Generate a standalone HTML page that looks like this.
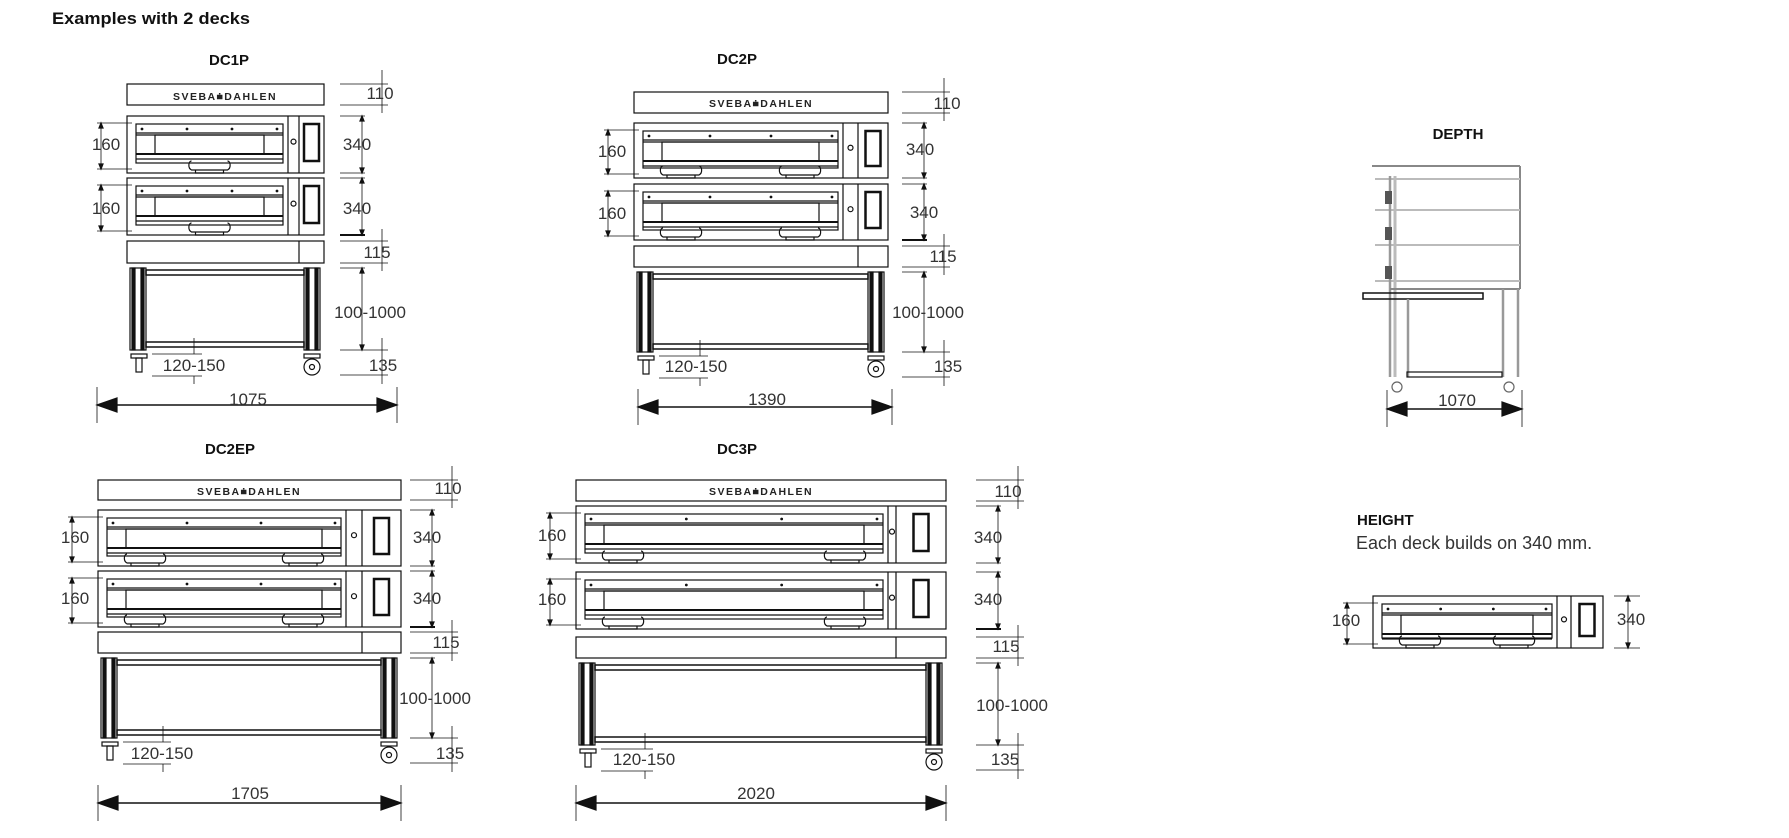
<!DOCTYPE html>
<html><head><meta charset="utf-8">
<style>
html,body{margin:0;padding:0;background:#fff;}
svg{display:block;}
.t{font-family:"Liberation Sans",sans-serif;font-size:17px;fill:#333;}
.b{font-family:"Liberation Sans",sans-serif;font-weight:bold;font-size:15px;fill:#111;}
.br{font-family:"Liberation Sans",sans-serif;font-weight:bold;font-size:10.5px;fill:#222;letter-spacing:1.5px;}
</style></head>
<body>
<svg id="s" width="1789" height="838" viewBox="0 0 1789 838" xmlns="http://www.w3.org/2000/svg">
<g id="g" fill="none" stroke="#111" stroke-width="1.2"></g>
<text x="52" y="24" class="b" style="font-size:17px" textLength="198" lengthAdjust="spacingAndGlyphs">Examples with 2 decks</text>
<text x="229" y="65" class="b" text-anchor="middle">DC1P</text>
<text x="737" y="64" class="b" text-anchor="middle">DC2P</text>
<text x="230" y="454" class="b" text-anchor="middle">DC2EP</text>
<text x="737" y="454" class="b" text-anchor="middle">DC3P</text>
<text x="1458" y="139" class="b" text-anchor="middle">DEPTH</text>
<text x="1357" y="525" class="b">HEIGHT</text>
<text x="1356" y="549" class="t" style="font-size:18px">Each deck builds on 340 mm.</text>

<text x="225" y="100" class="br" text-anchor="middle">SVEBA⩧DAHLEN</text>
<text x="761" y="107" class="br" text-anchor="middle">SVEBA⩧DAHLEN</text>
<text x="249" y="495" class="br" text-anchor="middle">SVEBA⩧DAHLEN</text>
<text x="761" y="495" class="br" text-anchor="middle">SVEBA⩧DAHLEN</text>

<text x="380" y="99" class="t" text-anchor="middle">110</text>
<text x="357" y="150" class="t" text-anchor="middle">340</text>
<text x="357" y="214" class="t" text-anchor="middle">340</text>
<text x="377" y="258" class="t" text-anchor="middle">115</text>
<text x="370" y="318" class="t" text-anchor="middle">100-1000</text>
<text x="383" y="371" class="t" text-anchor="middle">135</text>
<text x="194" y="371" class="t" text-anchor="middle">120-150</text>
<text x="106" y="150" class="t" text-anchor="middle">160</text>
<text x="106" y="214" class="t" text-anchor="middle">160</text>
<text x="248" y="405" class="t" text-anchor="middle">1075</text>

<text x="947" y="109" class="t" text-anchor="middle">110</text>
<text x="920" y="155" class="t" text-anchor="middle">340</text>
<text x="924" y="218" class="t" text-anchor="middle">340</text>
<text x="943" y="262" class="t" text-anchor="middle">115</text>
<text x="928" y="318" class="t" text-anchor="middle">100-1000</text>
<text x="948" y="372" class="t" text-anchor="middle">135</text>
<text x="696" y="372" class="t" text-anchor="middle">120-150</text>
<text x="612" y="157" class="t" text-anchor="middle">160</text>
<text x="612" y="219" class="t" text-anchor="middle">160</text>
<text x="767" y="405" class="t" text-anchor="middle">1390</text>

<text x="448" y="494" class="t" text-anchor="middle">110</text>
<text x="427" y="543" class="t" text-anchor="middle">340</text>
<text x="427" y="604" class="t" text-anchor="middle">340</text>
<text x="446" y="648" class="t" text-anchor="middle">115</text>
<text x="435" y="704" class="t" text-anchor="middle">100-1000</text>
<text x="450" y="759" class="t" text-anchor="middle">135</text>
<text x="162" y="759" class="t" text-anchor="middle">120-150</text>
<text x="75" y="543" class="t" text-anchor="middle">160</text>
<text x="75" y="604" class="t" text-anchor="middle">160</text>
<text x="250" y="799" class="t" text-anchor="middle">1705</text>

<text x="1008" y="497" class="t" text-anchor="middle">110</text>
<text x="988" y="543" class="t" text-anchor="middle">340</text>
<text x="988" y="605" class="t" text-anchor="middle">340</text>
<text x="1006" y="652" class="t" text-anchor="middle">115</text>
<text x="1012" y="711" class="t" text-anchor="middle">100-1000</text>
<text x="1005" y="765" class="t" text-anchor="middle">135</text>
<text x="644" y="765" class="t" text-anchor="middle">120-150</text>
<text x="552" y="541" class="t" text-anchor="middle">160</text>
<text x="552" y="605" class="t" text-anchor="middle">160</text>
<text x="756" y="799" class="t" text-anchor="middle">2020</text>

<text x="1457" y="406" class="t" text-anchor="middle">1070</text>
<text x="1346" y="626" class="t" text-anchor="middle">160</text>
<text x="1631" y="625" class="t" text-anchor="middle">340</text>
</svg>
<script>
var g=document.getElementById('g'),NS='http://www.w3.org/2000/svg';
function el(n,a){var e=document.createElementNS(NS,n);for(var k in a)e.setAttribute(k,a[k]);g.appendChild(e);return e;}
function R(x,y,w,h,o){var a={x:x,y:y,width:w,height:h};for(var k in o)a[k]=o[k];return el('rect',a);}
function L(x1,y1,x2,y2,o){var a={x1:x1,y1:y1,x2:x2,y2:y2};for(var k in o)a[k]=o[k];return el('line',a);}
function arrowV(x,y1,y2){L(x,y1,x,y2,{'stroke-width':0.8});el('path',{d:'M'+(x-2)+' '+(y1+5)+'L'+x+' '+y1+'L'+(x+2)+' '+(y1+5)+'Z',fill:'#111'});el('path',{d:'M'+(x-2)+' '+(y2-5)+'L'+x+' '+y2+'L'+(x+2)+' '+(y2-5)+'Z',fill:'#111'});}
function handle(cx,y){el('path',{d:'M'+(cx-18)+' '+y+'c-3 0-4 7 0 9h36c4-2 3-9 0-9M'+(cx-14)+' '+(y+9)+'v3h28v-3'});}
function deck(x0,x1,y0,y1,s1,s2,nh){
  var h=y1-y0;R(x0,y0,x1-x0,h);L(s1,y0,s1,y1);L(s2,y0,s2,y1);
  var dx0=x0+9,dx1=s1-5;
  R(dx0,y0+8,dx1-dx0,h-18);
  L(dx0,y0+17,dx1,y0+17);L(dx0,y0+19,dx1,y0+19);
  L(dx0,y0+38,dx1,y0+38,{'stroke-width':2});L(dx0,y0+43,dx1,y0+43);
  R(dx0+19,y0+19,dx1-dx0-38,19);
  for(var i=0;i<4;i++){var px=dx0+6+i*(dx1-dx0-12)/3;el('circle',{cx:px,cy:y0+13,r:0.8,fill:'#111'});}
  el('circle',{cx:(s1+s2)/2,cy:y0+h*0.45,r:2.5});
  var hw=15,hc=(s2+x1)/2;R(hc-hw/2,y0+8,hw,h-20,{'stroke-width':2.5});
  if(nh==1)handle((dx0+dx1)/2,y0+h-12);else{handle(dx0+38,y0+h-12);handle(dx1-38,y0+h-12);}
  L(x0-30,y0+7,x0+5,y0+7,{'stroke-width':0.8});L(x0-30,y1-4,x0+5,y1-4,{'stroke-width':0.8});arrowV(x0-26,y0+7,y1-4);
}
function oven(o){
  var x0=o.x0,x1=o.x1;
  R(x0,o.t0,x1-x0,o.t1-o.t0);
  deck(x0,x1,o.d1[0],o.d1[1],o.s1,o.s2,o.nh);deck(x0,x1,o.d2[0],o.d2[1],o.s1,o.s2,o.nh);
  R(x0,o.b0,x1-x0,o.b1-o.b0);L(o.s2,o.b0,o.s2,o.b1);
  var st0=o.st0,st1=o.st1;
  [[x0+3,x0+19],[x1-20,x1-4]].forEach(function(p){R(p[0],st0,p[1]-p[0],st1-st0);R(p[0]+2,st0,3,st1-st0,{fill:'#111'});R(p[1]-5,st0,3,st1-st0,{fill:'#111'});});
  R(x0+19,st0+2,x1-x0-39,5,{'stroke-width':1.5});R(x0+19,st1-8,x1-x0-39,5,{'stroke-width':1.5});
  R(x0+4,st1+4,16,4);R(x0+9,st1+8,6,14);
  R(x1-20,st1+4,16,4);el('circle',{cx:x1-12,cy:st1+17,r:8});el('circle',{cx:x1-12,cy:st1+17,r:2.5});
  var tx=o.tx;L(tx,st1-12,tx,st1+4,{'stroke-width':0.8});L(tx,st1+26,tx,st1+34,{'stroke-width':0.8});L(x0+25,st1+4,tx+8,st1+4,{'stroke-width':0.8});L(x0+25,st1+26,tx+8,st1+26,{'stroke-width':0.8});
  var ay=o.ay,ax0=o.ax0,ax1=o.ax1;L(ax0,ay-18,ax0,ay+18,{'stroke-width':0.8});L(ax1,ay-18,ax1,ay+18,{'stroke-width':0.8});
  L(ax0+10,ay,ax1-10,ay,{'stroke-width':1.5});
  el('path',{d:'M'+ax0+' '+ay+'l20 -7v14z',fill:'#111'});el('path',{d:'M'+ax1+' '+ay+'l-20 -7v14z',fill:'#111'});
  var d0=o.dx,va=d0+42,vb=d0+22;
  [o.t0,o.t1].forEach(function(y){L(d0,y,d0+48,y,{'stroke-width':0.8});});L(va,o.t0-14,va,o.t1+8,{'stroke-width':0.8});
  [o.d1[0],o.d1[1],o.d2[0]].forEach(function(y){L(d0,y,d0+25,y,{'stroke-width':0.8});});L(d0,o.d2[1],d0+25,o.d2[1],{'stroke-width':2});
  arrowV(vb,o.d1[0],o.d1[1]);arrowV(vb,o.d2[0],o.d2[1]);
  [o.b0,o.b1].forEach(function(y){L(d0,y,d0+48,y,{'stroke-width':0.8});});L(va,o.b0-12,va,o.b1+8,{'stroke-width':0.8});
  L(d0,st0,d0+25,st0,{'stroke-width':0.8});L(d0,st1,d0+48,st1,{'stroke-width':0.8});arrowV(vb,st0,st1);
  L(d0,st1+25,d0+48,st1+25,{'stroke-width':0.8});L(va,st1-12,va,st1+34,{'stroke-width':0.8});
}
oven({x0:127,x1:324,t0:84,t1:105,d1:[116,173],d2:[178,235],b0:241,b1:263,st0:268,st1:350,s1:288,s2:299,nh:1,tx:194,ay:405,ax0:97,ax1:397,dx:340});
oven({x0:634,x1:888,t0:92,t1:113,d1:[123,178],d2:[184,240],b0:246,b1:267,st0:272,st1:352,s1:843,s2:858,nh:2,tx:700,ay:407,ax0:638,ax1:892,dx:902});
oven({x0:98,x1:401,t0:480,t1:500,d1:[510,566],d2:[571,627],b0:632,b1:653,st0:658,st1:738,s1:346,s2:362,nh:2,tx:163,ay:803,ax0:98,ax1:401,dx:410});
oven({x0:576,x1:946,t0:480,t1:501,d1:[506,563],d2:[572,629],b0:637,b1:658,st0:663,st1:745,s1:888,s2:896,nh:2,tx:645,ay:803,ax0:576,ax1:946,dx:976});
// depth view
var gr={stroke:'#999','stroke-width':2.5};
L(1372,166,1520,166,{stroke:'#888','stroke-width':2});L(1520,166,1520,289,{stroke:'#888','stroke-width':2});
[179,210,245,281].forEach(function(y){L(1375,y,1520,y,{stroke:'#bbb','stroke-width':2});});
L(1390,176,1390,377,gr);L(1395,176,1395,377,{stroke:'#bbb','stroke-width':3});
L(1390,289,1520,289,{stroke:'#888','stroke-width':2});
[198,234,273].forEach(function(y){R(1385,y-7,7,13,{fill:'#555',stroke:'none'});});
R(1363,293,120,6,{'stroke-width':1.5});
L(1408,299,1408,377,gr);L(1503,289,1503,377,gr);L(1518,289,1518,377,gr);
R(1407,372,95,5,{'stroke-width':1.2});
el('circle',{cx:1397,cy:387,r:5,stroke:'#666'});el('circle',{cx:1509,cy:387,r:5,stroke:'#666'});
L(1387,390,1387,427,{'stroke-width':0.8});L(1522,390,1522,427,{'stroke-width':0.8});
L(1395,409,1514,409,{'stroke-width':1.5});
el('path',{d:'M1387 409l20 -7v14z',fill:'#111'});el('path',{d:'M1522 409l-20 -7v14z',fill:'#111'});
// height deck
deck(1373,1603,596,648,1557,1571,2);
L(1614,596,1640,596,{'stroke-width':0.8});L(1614,648,1640,648,{'stroke-width':0.8});arrowV(1628,596,648);
</script>
</body></html>
